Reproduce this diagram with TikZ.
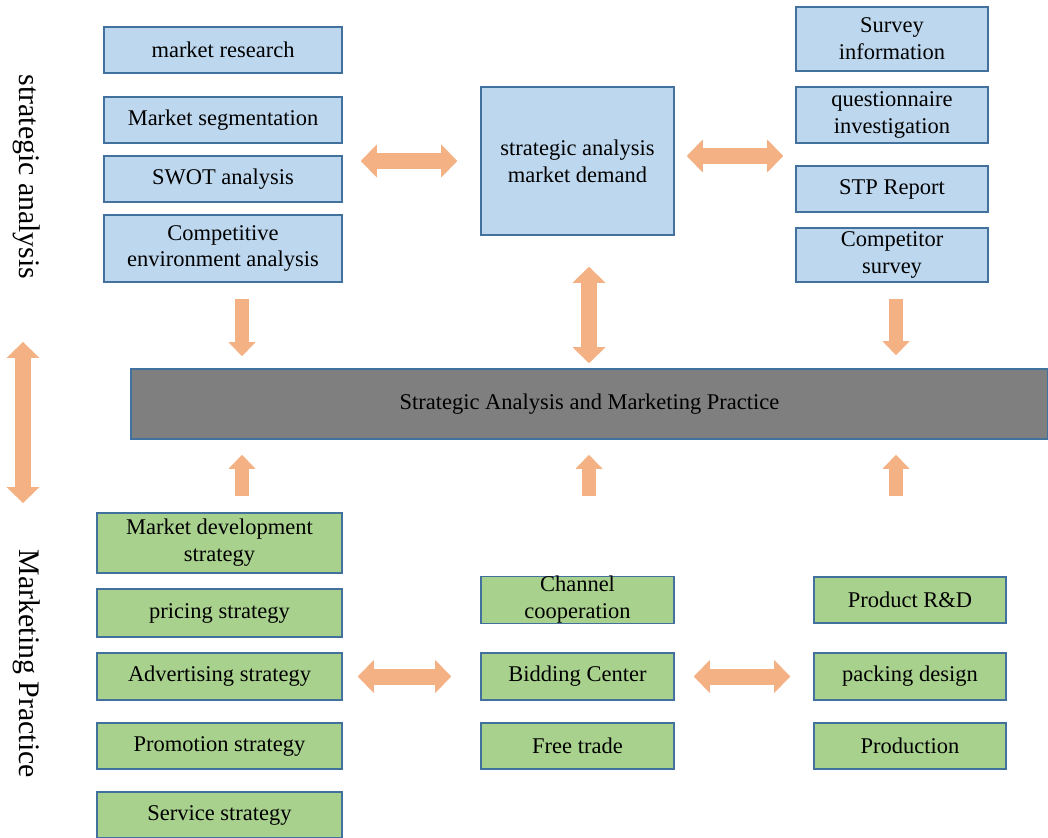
\documentclass[tikz,border=0pt]{standalone}
\usepackage{fontspec}
\setmainfont{Liberation Serif}
\usetikzlibrary{arrows.meta}
\definecolor{saBlue}{HTML}{BDD7EE}
\definecolor{mpGreen}{HTML}{A9D18E}
\definecolor{edgeBlue}{HTML}{41719C}
\definecolor{barGray}{HTML}{7F7F7F}
\definecolor{fatOrange}{HTML}{F4B183}
\tikzstyle{box} = [draw=edgeBlue, line width=0.9pt, inner sep=0pt, align=center, font=\fontsize{12.8}{15.3}\selectfont]
\tikzstyle{sabox} = [box, fill=saBlue]
\tikzstyle{mpbox} = [box, fill=mpGreen]
\tikzstyle{side} = [rotate=-90, font=\fontsize{17}{20}\selectfont]
\tikzstyle{fatpair} = [draw=fatOrange, line width=0.32cm, <->, >={Triangle[length=0.32cm, width=0.66cm, line width=0pt]}]
\tikzstyle{fatarrow} = [draw=fatOrange, line width=0.28cm, ->, >={Triangle[length=0.28cm, width=0.54cm, line width=0pt]}]

\begin{document}
\begin{tikzpicture}[x=0.02cm, y=-0.02cm]
    \useasboundingbox (0,0) rectangle (1048,838);
    % side labels
    \node (sal) [side] at (27,177) {strategic analysis};
    \node (mpl) [side] at (27,664) {Marketing Practice};
    % strategic analysis, left column
    \node (mres) [sabox, minimum width=4.76cm, minimum height=0.92cm] at (223,50) {market research};
    \node (mseg) [sabox, minimum width=4.76cm, minimum height=0.92cm] at (223,120) {Market segmentation};
    \node (swot) [sabox, minimum width=4.76cm, minimum height=0.92cm] at (223,179) {SWOT analysis};
    \node (comp) [sabox, minimum width=4.76cm, minimum height=1.34cm] at (223,248.5) {Competitive\\environment analysis};
    % centre
    \node (ctr) [sabox, minimum width=3.86cm, minimum height=2.96cm] at (577.5,161) {strategic analysis\\market demand};
    % right column
    \node (surv) [sabox, minimum width=3.84cm, minimum height=1.28cm] at (892,39) {Survey\\information};
    \node (quest) [sabox, minimum width=3.84cm, minimum height=1.12cm] at (892,115) {questionnaire\\investigation};
    \node (stp) [sabox, minimum width=3.84cm, minimum height=0.92cm] at (892,189) {STP Report};
    \node (cmpt) [sabox, minimum width=3.84cm, minimum height=1.08cm] at (892,255) {Competitor\\survey};
    % the bar
    \node (bar) [box, fill=barGray, minimum width=18.34cm, minimum height=1.4cm] at (589.5,404) {Strategic Analysis and Marketing Practice};
    % marketing practice, left column
    \node (mdev) [mpbox, minimum width=4.9cm, minimum height=1.2cm] at (219.5,543) {Market development\\strategy};
    \node (price) [mpbox, minimum width=4.9cm, minimum height=0.96cm] at (219.5,613) {pricing strategy};
    \node (adv) [mpbox, minimum width=4.9cm, minimum height=0.94cm] at (219.5,676.5) {Advertising strategy};
    \node (promo) [mpbox, minimum width=4.9cm, minimum height=0.92cm] at (219.5,746) {Promotion strategy};
    \node (serv) [mpbox, minimum width=4.9cm, minimum height=0.92cm] at (219.5,815) {Service strategy};
    % middle and right columns
    \node (chan) [mpbox, minimum width=3.86cm, minimum height=0.92cm] at (577.5,600) {Channel\\cooperation};
    \node (bid) [mpbox, minimum width=3.86cm, minimum height=0.94cm] at (577.5,676.5) {Bidding Center};
    \node (free) [mpbox, minimum width=3.86cm, minimum height=0.92cm] at (577.5,746) {Free trade};
    \node (prod) [mpbox, minimum width=3.84cm, minimum height=0.92cm] at (910,600) {Product R\&D};
    \node (pack) [mpbox, minimum width=3.84cm, minimum height=0.94cm] at (910,676.5) {packing design};
    \node (pdn) [mpbox, minimum width=3.84cm, minimum height=0.92cm] at (910,746) {Production};
    % arrow columns
    \coordinate (vx) at (23,0);
    \coordinate (lx) at (242,0);
    \coordinate (mx) at (589,0);
    \coordinate (rx) at (896,0);
    % arrows
    \draw [fatpair, shorten <=0.46cm, shorten >=0.36cm] (ctr.west) -- (ctr.west -| mseg.east);
    \draw [fatpair, shorten <=0.24cm, shorten >=0.24cm] ([yshift=0.1cm]ctr.east) -- ([yshift=0.1cm]ctr.east -| stp.west);
    \draw [fatpair, shorten <=0.1cm, shorten >=0.62cm] (bar.north -| mx) -- (ctr.south -| mx);
    \draw [fatpair, shorten <=3.3cm, shorten >=3.22cm] (sal -| vx) -- (mpl -| vx);
    \draw [fatarrow, shorten <=0.32cm, shorten >=0.24cm] (comp.south -| lx) -- (bar.north -| lx);
    \draw [fatarrow, shorten <=0.32cm, shorten >=0.26cm] (cmpt.south -| rx) -- (bar.north -| rx);
    \draw [fatarrow, shorten <=0.32cm, shorten >=0.3cm] (mdev.north -| lx) -- (bar.south -| lx);
    \draw [fatarrow, shorten <=1.6cm, shorten >=0.3cm] (chan.north -| mx) -- (bar.south -| mx);
    \draw [fatarrow, shorten <=1.6cm, shorten >=0.3cm] (prod.north -| rx) -- (bar.south -| rx);
    \draw [fatpair, shorten <=0.3cm, shorten >=0.58cm] (adv.east) -- (bid.west);
    \draw [fatpair, shorten <=0.38cm, shorten >=0.46cm] (bid.east) -- (pack.west);
\end{tikzpicture}
\end{document}
